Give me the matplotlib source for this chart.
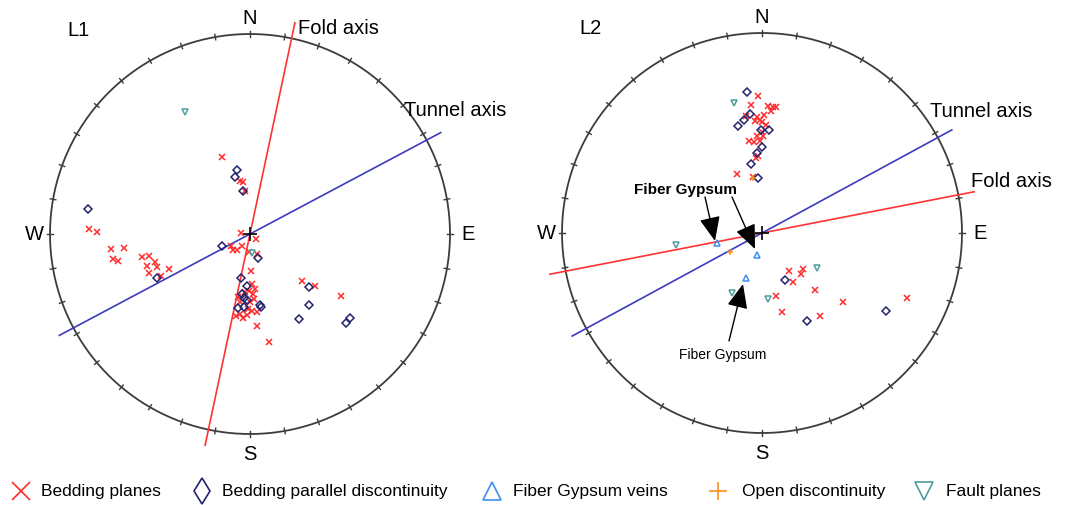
import numpy as np
import matplotlib.pyplot as plt
from matplotlib.lines import Line2D

plt.rcParams['font.family'] = ['Liberation Sans', 'DejaVu Sans']

# projected pole positions (east, north) in units of the net radius
# L1
l1_bed_x = [-0.14, -0.05, -0.035, -0.025, -0.805, -0.765, -0.695, -0.63, -0.685, -0.66,
            -0.54, -0.505, -0.515, -0.475, -0.465, -0.505, -0.405, -0.445, -0.095, -0.085,
            -0.065, -0.04, -0.045, 0.03, -0.005, 0.035, 0.005, 0.01, -0.005, 0.025,
            -0.025, 0.015, -0.06, -0.05, 0.0, 0.02, -0.07, -0.035, -0.05, -0.01,
            0.01, 0.035, -0.015, 0.035, 0.095, 0.26, 0.325, 0.455]
l1_bed_y = [0.385, 0.265, 0.26, 0.215, 0.025, 0.01, -0.075, -0.07, -0.125, -0.135,
            -0.115, -0.11, -0.16, -0.14, -0.165, -0.195, -0.175, -0.21, -0.06, -0.08,
            -0.08, -0.06, 0.005, -0.025, -0.09, -0.1, -0.185, -0.25, -0.285, -0.275,
            -0.29, -0.3, -0.315, -0.34, -0.34, -0.325, -0.41, -0.42, -0.4, -0.375,
            -0.385, -0.39, -0.405, -0.46, -0.54, -0.235, -0.26, -0.31]
l1_par_x = [-0.065, -0.075, -0.035, -0.81, -0.465, -0.14, 0.04, -0.045, -0.015, -0.04,
            -0.03, -0.015, 0.05, 0.055, -0.06, -0.03, 0.295, 0.295, 0.245, 0.5, 0.48]
l1_par_y = [0.32, 0.285, 0.215, 0.125, -0.22, -0.06, -0.12, -0.22, -0.26, -0.3,
            -0.32, -0.33, -0.355, -0.365, -0.37, -0.365, -0.265, -0.355, -0.425, -0.42, -0.445]
l1_fault_x = [-0.325, 0.01]
l1_fault_y = [0.61, -0.095]

# L2
l2_bed_x = [-0.02, -0.055, 0.03, 0.055, 0.07, 0.045, -0.08, -0.025, -0.01, -0.035,
            0.0, 0.01, 0.02, -0.025, 0.005, 0.0, -0.065, -0.04, -0.01, -0.02,
            -0.03, -0.125, -0.045, 0.135, 0.205, 0.195, 0.155, 0.265, 0.07, 0.405,
            0.725, 0.1, 0.29]
l2_bed_y = [0.685, 0.64, 0.635, 0.63, 0.63, 0.61, 0.585, 0.58, 0.565, 0.56,
            0.555, 0.59, 0.54, 0.485, 0.485, 0.505, 0.46, 0.455, 0.46, 0.385,
            0.375, 0.295, 0.28, -0.19, -0.18, -0.205, -0.245, -0.285, -0.315, -0.345,
            -0.325, -0.395, -0.415]
l2_par_x = [-0.075, -0.06, -0.09, -0.12, -0.005, 0.035, 0.0, -0.025, -0.055, -0.02,
            0.115, 0.225, 0.62]
l2_par_y = [0.705, 0.595, 0.565, 0.535, 0.515, 0.515, 0.43, 0.4, 0.345, 0.275,
            -0.235, -0.44, -0.39]
l2_gyp_x = [-0.225, -0.025, -0.08]
l2_gyp_y = [-0.05, -0.11, -0.225]
l2_open_x = [-0.045, -0.16]
l2_open_y = [0.275, -0.095]
l2_fault_x = [-0.14, 0.275, -0.15, 0.03, -0.43]
l2_fault_y = [0.65, -0.175, -0.3, -0.33, -0.06]

# trends of the axes (degrees)
l1_fold_trend = 12
l1_tunnel_trend = 62
l2_fold_trend = 79
l2_tunnel_trend = 61.5

c_bed = '#ff2a2a'
c_par = '#23236e'
c_gyp = '#3a8ff0'
c_open = '#ff8c1a'
c_fault = '#4f9e9e'
c_fold = '#ff3333'
c_tunnel = '#3b3bbf'

big = 14.5


def draw_net(ax, name, fold_trend, tunnel_trend):
    t = np.linspace(0, 2 * np.pi, 500)
    ax.plot(np.cos(t), np.sin(t), color='#3c3c3c', lw=1.3)
    for a in np.radians(np.arange(0, 360, 10)):
        ax.plot([0.986 * np.sin(a), 1.014 * np.sin(a)],
                [0.986 * np.cos(a), 1.014 * np.cos(a)], color='#3c3c3c', lw=1)
    for tr, col in [(fold_trend, c_fold), (tunnel_trend, c_tunnel)]:
        a = np.radians(tr)
        ax.plot([-1.08 * np.sin(a), 1.08 * np.sin(a)],
                [-1.08 * np.cos(a), 1.08 * np.cos(a)], color=col, lw=1.2)
    ax.plot([0], [0], marker='+', color='black', ms=10, mew=1.2)
    ax.text(0, 1.035, 'N', ha='center', va='bottom', fontsize=big)
    ax.text(0, -1.05, 'S', ha='center', va='top', fontsize=big)
    ax.text(-1.03, 0, 'W', ha='right', va='center', fontsize=big)
    ax.text(1.055, 0, 'E', ha='left', va='center', fontsize=big)
    ax.text(-0.915, 1.025, name, ha='left', va='center', fontsize=big)


def draw_points(ax, x, y, marker, color, ms, mew=1.1):
    ax.plot(x, y, ls='none', marker=marker, mfc='none', mec=color, ms=ms, mew=mew)


fig = plt.figure(figsize=(10.77, 5.06), dpi=100)

ax1 = fig.add_axes([0, 36 / 506, 510 / 1077, 470 / 506])
ax1.set_xlim(-1.25, 1.3)
ax1.set_ylim(-1.175, 1.175)
ax1.axis('off')
draw_net(ax1, 'L1', l1_fold_trend, l1_tunnel_trend)
draw_points(ax1, l1_bed_x, l1_bed_y, 'x', c_bed, 5)
draw_points(ax1, l1_par_x, l1_par_y, 'D', c_par, 3.6)
draw_points(ax1, l1_fault_x, l1_fault_y, 'v', c_fault, 4.8)
ax1.text(0.24, 1.03, 'Fold axis', ha='left', va='center', fontsize=big)
ax1.text(0.77, 0.62, 'Tunnel axis', ha='left', va='center', fontsize=big)

ax2 = fig.add_axes([520 / 1077, 36 / 506, 557 / 1077, 470 / 506])
ax2.set_xlim(-1.21, 1.575)
ax2.set_ylim(-1.18, 1.17)
ax2.axis('off')
draw_net(ax2, 'L2', l2_fold_trend, l2_tunnel_trend)
draw_points(ax2, l2_bed_x, l2_bed_y, 'x', c_bed, 5)
draw_points(ax2, l2_par_x, l2_par_y, 'D', c_par, 3.6)
draw_points(ax2, l2_gyp_x, l2_gyp_y, '^', c_gyp, 4.8)
draw_points(ax2, l2_open_x, l2_open_y, '+', c_open, 4)
draw_points(ax2, l2_fault_x, l2_fault_y, 'v', c_fault, 4.8)
ax2.text(0.84, 0.61, 'Tunnel axis', ha='left', va='center', fontsize=big)
ax2.text(1.045, 0.26, 'Fold axis', ha='left', va='center', fontsize=big)

arrow = dict(arrowstyle='-|>,head_length=0.75,head_width=0.32', color='black',
             lw=1, mutation_scale=20, shrinkA=0, shrinkB=0)
ax2.text(-0.385, 0.22, 'Fiber Gypsum', ha='center', va='center', fontsize=11,
         fontweight='bold')
ax2.annotate('', xy=(-0.235, -0.04), xytext=(-0.285, 0.18), arrowprops=arrow)
ax2.annotate('', xy=(-0.035, -0.08), xytext=(-0.15, 0.18), arrowprops=arrow)
ax2.text(-0.195, -0.605, 'Fiber Gypsum', ha='center', va='center', fontsize=10)
ax2.annotate('', xy=(-0.095, -0.255), xytext=(-0.165, -0.54), arrowprops=arrow)

# legend along the bottom, laid out in pixel units
leg_labels = ['Bedding planes', 'Bedding parallel discontinuity', 'Fiber Gypsum veins',
              'Open discontinuity', 'Fault planes']
leg_markers = ['x', 'd', '^', '+', 'v']
leg_colors = [c_bed, c_par, c_gyp, c_open, c_fault]
leg_marker_x = [21, 202, 492, 718, 924]
leg_text_x = [41, 222, 513, 742, 946]

axl = fig.add_axes([0, 0, 1, 36 / 506])
axl.set_xlim(0, 1077)
axl.set_ylim(0, 36)
axl.axis('off')
for m, c, mx, tx, lab in zip(leg_markers, leg_colors, leg_marker_x, leg_text_x, leg_labels):
    axl.plot([mx], [14], ls='none', marker=m, mfc='none', mec=c, ms=13, mew=1.2)
    axl.text(tx, 14, lab, ha='left', va='center', fontsize=12.5)

fig.savefig('out.png', dpi=100)
